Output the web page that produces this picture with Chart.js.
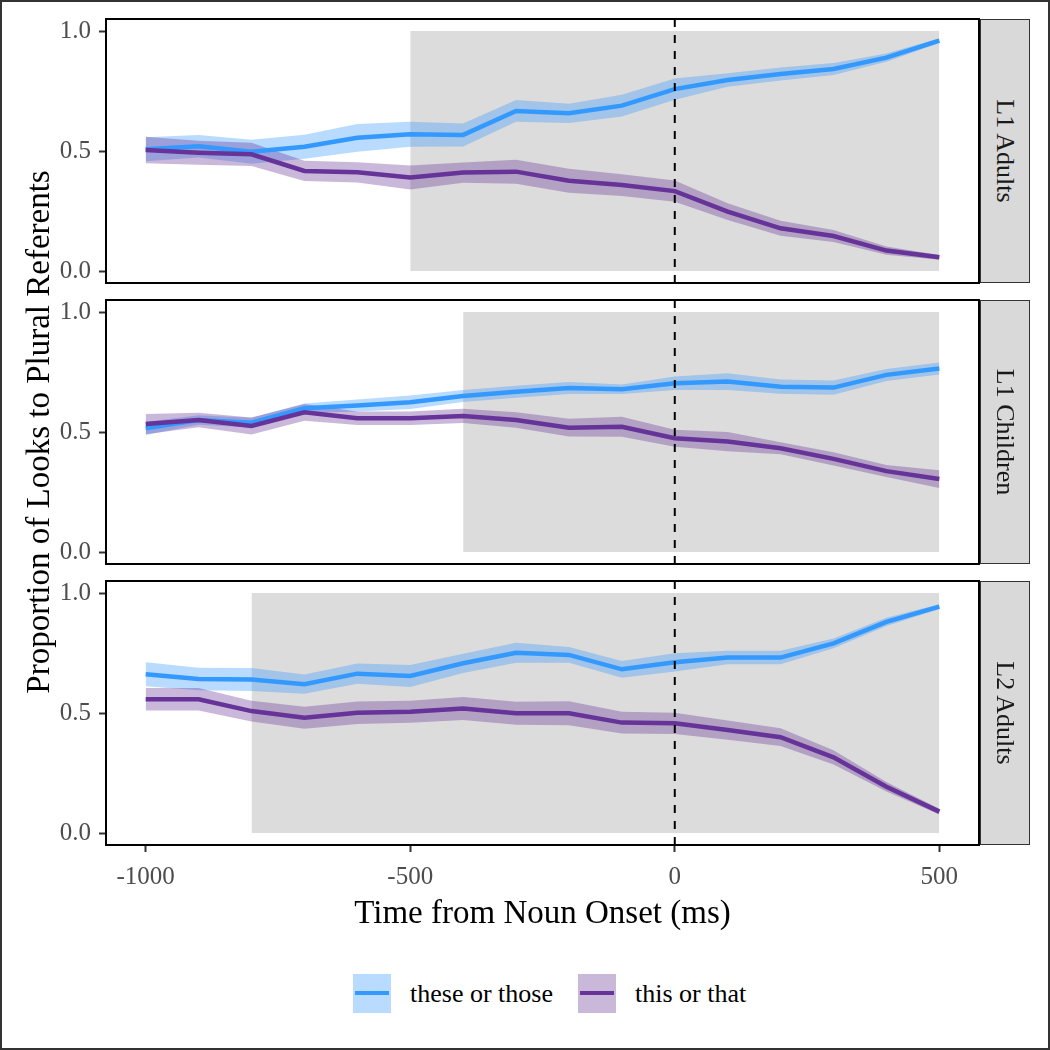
<!DOCTYPE html>
<html>
<head>
<meta charset="utf-8">
<script src="https://cdn.jsdelivr.net/npm/chart.js@4.4.0/dist/chart.umd.min.js"></script>
<style>
  body { margin: 0; background: #fff; }
  #wrap { position: relative; width: 1050px; height: 1050px; overflow: hidden; font-family: "Liberation Serif", serif; }
  #frame { position: absolute; left: 0; top: 0; width: 1050px; height: 1050px; border: 2px solid #333; box-sizing: border-box; pointer-events: none; }
  canvas { position: absolute; left: 0; }
  .strip { position: absolute; left: 980px; width: 50px; background: #d9d9d9; border: 1.5px solid #333; box-sizing: border-box; }
  .strip span { position: absolute; left: 50%; top: 50%; transform: translate(-50%, -50%) rotate(90deg); white-space: nowrap; font-size: 26px; color: #1a1a1a; }
  #ytitle { position: absolute; left: 38px; top: 432px; transform: translate(-50%, -50%) rotate(-90deg); white-space: nowrap; font-size: 33px; color: #000; }
  .key { position: absolute; top: 974px; width: 38px; height: 39px; }
  .key div { position: absolute; left: 2px; right: 2px; top: 17px; height: 4px; }
  .ltext { position: absolute; top: 977px; font-size: 26px; line-height: 34px; color: #000; white-space: nowrap; }
</style>
</head>
<body>
<div id="wrap">
  <canvas id="p0" width="982" height="324" style="top:-11px"></canvas>
  <canvas id="p1" width="982" height="324" style="top:270px"></canvas>
  <canvas id="p2" width="982" height="389" style="top:551px"></canvas>
  <div class="strip" style="top:19px;height:264px"><span id="s0"></span></div>
  <div class="strip" style="top:300px;height:264px"><span id="s1"></span></div>
  <div class="strip" style="top:581px;height:264px"><span id="s2"></span></div>
  <div id="ytitle">Proportion of Looks to Plural Referents</div>
  <div class="key" style="left:353px;background:rgba(51,153,255,0.35)"><div style="background:#3399ff"></div></div>
  <div class="ltext" style="left:410px" id="lab0"></div>
  <div class="key" style="left:578px;background:rgba(102,51,153,0.35)"><div style="background:#663399"></div></div>
  <div class="ltext" style="left:635px" id="lab1"></div>
  <div id="frame"></div>
</div>
<script>
// time bins (ms from noun onset)
const times = [-1000, -900, -800, -700, -600, -500, -400, -300, -200, -100, 0, 100, 200, 300, 400, 500];
const groups = ["L1 Adults", "L1 Children", "L2 Adults"];
const seriesNames = ["these or those", "this or that"];
const shadeStart = [-500, -400, -800];
const shadeEnd = 500;
const xTicks = [-1000, -500, 0, 500];
const yTicks = [0, 0.5, 1];

// L1 Adults
const l1AdultsThese = [0.507, 0.52, 0.497, 0.518, 0.555, 0.57, 0.567, 0.667, 0.657, 0.689, 0.758, 0.796, 0.821, 0.842, 0.889, 0.96];
const l1AdultsTheseSe = [0.05, 0.047, 0.05, 0.05, 0.058, 0.052, 0.048, 0.045, 0.04, 0.045, 0.044, 0.028, 0.027, 0.025, 0.017, 0.01];
const l1AdultsThis = [0.504, 0.493, 0.486, 0.417, 0.411, 0.39, 0.41, 0.414, 0.376, 0.358, 0.333, 0.247, 0.178, 0.146, 0.085, 0.057];
const l1AdultsThisSe = [0.055, 0.05, 0.048, 0.042, 0.042, 0.05, 0.042, 0.05, 0.05, 0.045, 0.044, 0.035, 0.031, 0.025, 0.017, 0.01];

// L1 Children
const l1ChildThese = [0.515, 0.55, 0.539, 0.599, 0.61, 0.624, 0.65, 0.668, 0.683, 0.678, 0.703, 0.71, 0.689, 0.685, 0.738, 0.765];
const l1ChildTheseSe = [0.028, 0.02, 0.02, 0.02, 0.025, 0.028, 0.025, 0.025, 0.025, 0.02, 0.028, 0.035, 0.03, 0.03, 0.025, 0.025];
const l1ChildThis = [0.533, 0.55, 0.525, 0.582, 0.557, 0.557, 0.567, 0.55, 0.518, 0.522, 0.474, 0.46, 0.432, 0.388, 0.337, 0.304];
const l1ChildThisSe = [0.042, 0.03, 0.035, 0.035, 0.028, 0.028, 0.03, 0.032, 0.037, 0.042, 0.035, 0.04, 0.025, 0.028, 0.025, 0.037];

// L2 Adults
const l2AdultsThese = [0.661, 0.642, 0.64, 0.62, 0.664, 0.654, 0.707, 0.751, 0.742, 0.682, 0.711, 0.731, 0.731, 0.79, 0.88, 0.943];
const l2AdultsTheseSe = [0.05, 0.047, 0.048, 0.04, 0.042, 0.046, 0.04, 0.042, 0.033, 0.035, 0.038, 0.028, 0.028, 0.02, 0.017, 0.01];
const l2AdultsThis = [0.557, 0.557, 0.508, 0.48, 0.501, 0.505, 0.519, 0.499, 0.499, 0.46, 0.457, 0.429, 0.399, 0.315, 0.193, 0.089];
const l2AdultsThisSe = [0.047, 0.047, 0.043, 0.046, 0.047, 0.046, 0.048, 0.048, 0.05, 0.045, 0.044, 0.04, 0.037, 0.03, 0.02, 0.012];

const theseData = [l1AdultsThese, l1ChildThese, l2AdultsThese];
const theseSe = [l1AdultsTheseSe, l1ChildTheseSe, l2AdultsTheseSe];
const thisData = [l1AdultsThis, l1ChildThis, l2AdultsThis];
const thisSe = [l1AdultsThisSe, l1ChildThisSe, l2AdultsThisSe];

const blue = "#3399ff";
const blueBand = "rgba(51,153,255,0.35)";
const purple = "#663399";
const purpleBand = "rgba(102,51,153,0.35)";
const tickFont = { family: "Liberation Serif", size: 25 };

function pts(vals, se, sign) {
  return times.map((t, i) => ({ x: t, y: vals[i] + sign * se[i] }));
}

// black box round each panel
const panelFrame = {
  id: "panelFrame",
  afterDatasetsDraw(chart) {
    const a = chart.chartArea;
    const ctx = chart.ctx;
    ctx.save();
    ctx.strokeStyle = "#000";
    ctx.lineWidth = 2;
    ctx.strokeRect(a.left, a.top, a.right - a.left, a.bottom - a.top);
    ctx.restore();
  }
};

for (let p = 0; p < 3; p++) {
  document.getElementById("s" + p).textContent = groups[p];
  const last = p === 2;
  const noPt = { pointRadius: 0, pointHoverRadius: 0 };
  new Chart(document.getElementById("p" + p), {
    type: "line",
    data: {
      datasets: [
        { label: "onset", data: [{ x: 0, y: -0.05 }, { x: 0, y: 1.05 }], borderColor: "#000", borderWidth: 2, borderDash: [8, 8], fill: false, order: 0, ...noPt },
        { label: seriesNames[1], data: times.map((t, i) => ({ x: t, y: thisData[p][i] })), borderColor: purple, borderWidth: 4.5, fill: false, order: 1, ...noPt },
        { label: seriesNames[0], data: times.map((t, i) => ({ x: t, y: theseData[p][i] })), borderColor: blue, borderWidth: 4.5, fill: false, order: 2, ...noPt },
        { label: "thisHi", data: pts(thisData[p], thisSe[p], 1), borderWidth: 0, borderColor: "transparent", backgroundColor: purpleBand, fill: "+1", order: 3, ...noPt },
        { label: "thisLo", data: pts(thisData[p], thisSe[p], -1), borderWidth: 0, borderColor: "transparent", fill: false, order: 3, ...noPt },
        { label: "theseHi", data: pts(theseData[p], theseSe[p], 1), borderWidth: 0, borderColor: "transparent", backgroundColor: blueBand, fill: "+1", order: 4, ...noPt },
        { label: "theseLo", data: pts(theseData[p], theseSe[p], -1), borderWidth: 0, borderColor: "transparent", fill: false, order: 4, ...noPt },
        { label: "window", data: [{ x: shadeStart[p], y: 1 }, { x: shadeEnd, y: 1 }], borderWidth: 0, borderColor: "transparent", backgroundColor: "#dcdcdc", fill: { value: 0 }, order: 10, ...noPt }
      ]
    },
    options: {
      responsive: false,
      animation: false,
      devicePixelRatio: 1,
      layout: { padding: { top: 30, right: 3, bottom: last ? 0 : 30, left: 0 } },
      plugins: { legend: { display: false }, tooltip: { enabled: false } },
      scales: {
        x: {
          type: "linear",
          min: -1075,
          max: 575,
          display: last,
          afterBuildTicks: s => { s.ticks = xTicks.map(v => ({ value: v })); },
          afterFit: s => { s.height = last ? 95 : 0; },
          ticks: { color: "#4d4d4d", font: tickFont, padding: 10, maxRotation: 0, autoSkip: false, callback: v => String(v) },
          grid: { display: true, drawOnChartArea: false, drawTicks: true, tickLength: 7, tickWidth: 2, tickColor: "#333" },
          border: { display: false },
          title: { display: true, text: "Time from Noun Onset (ms)", color: "#000", font: { family: "Liberation Serif", size: 33 }, padding: { top: 2, bottom: 6 } }
        },
        y: {
          min: -0.05,
          max: 1.05,
          afterBuildTicks: s => { s.ticks = yTicks.map(v => ({ value: v })); },
          afterFit: s => { s.width = 106; },
          ticks: { color: "#4d4d4d", font: tickFont, padding: 8, callback: v => v.toFixed(1) },
          grid: { display: true, drawOnChartArea: false, drawTicks: true, tickLength: 7, tickWidth: 2, tickColor: "#333" },
          border: { display: false }
        }
      }
    },
    plugins: [panelFrame]
  });
}
document.getElementById("lab0").textContent = seriesNames[0];
document.getElementById("lab1").textContent = seriesNames[1];
</script>
</body>
</html>
